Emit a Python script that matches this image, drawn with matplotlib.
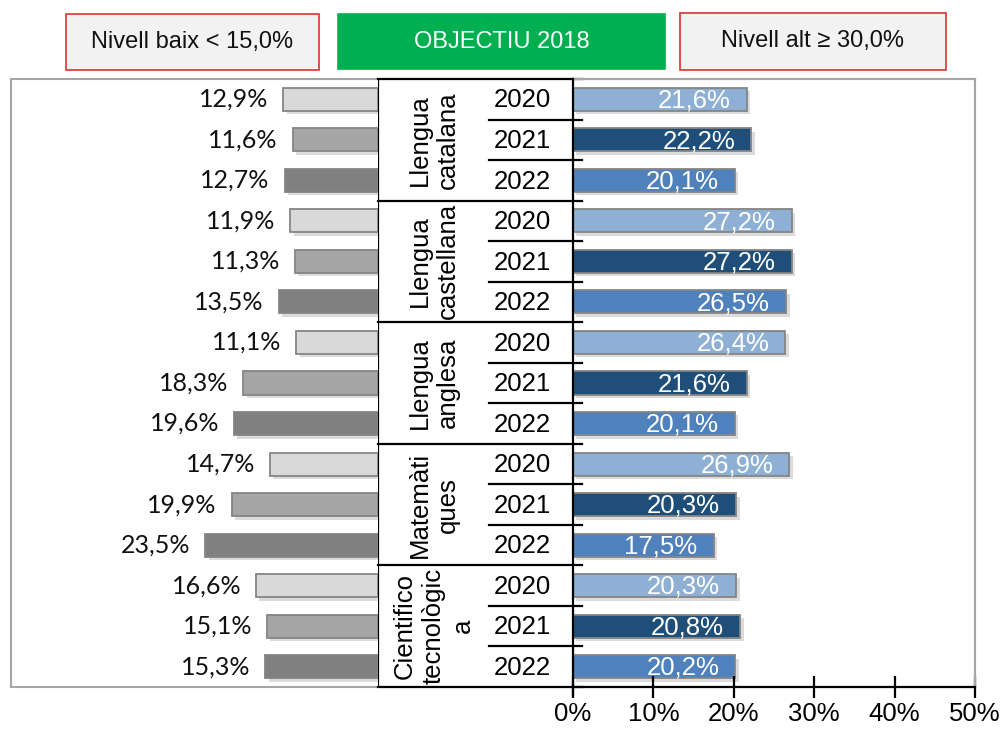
import matplotlib
matplotlib.use("Agg")
import matplotlib.pyplot as plt
import matplotlib.patheffects as pe
from matplotlib.patches import Rectangle

# data (percent)
subjects = ["Llengua\ncatalana", "Llengua\ncastellana", "Llengua\nanglesa",
            "Matemàti\nques", "Cientifico\ntecnològic\na"]
years = ["2020", "2021", "2022"]
nivell_baix = [12.9, 11.6, 12.7, 11.9, 11.3, 13.5, 11.1, 18.3, 19.6,
               14.7, 19.9, 23.5, 16.6, 15.1, 15.3]
nivell_alt = [21.6, 22.2, 20.1, 27.2, 27.2, 26.5, 26.4, 21.6, 20.1,
              26.9, 20.3, 17.5, 20.3, 20.8, 20.2]
xticks_alt = [0, 10, 20, 30, 40, 50]

GREY = ["#d9d9d9", "#a6a6a6", "#808080"]
BLUE = ["#8db0d4", "#1f4e79", "#4f81bd"]
EDGE = "#858585"
FRAME = "#a6a6a6"
ARIAL = "Liberation Sans"

W, H = 1004, 729
fig = plt.figure(figsize=(W / 100, H / 100), dpi=100)


def fx(x):
    return x / W


def fy(y):
    return 1 - y / H


def px_axes(x1, y1, x2, y2):
    return fig.add_axes([fx(x1), fy(y2), (x2 - x1) / W, (y2 - y1) / H])


shadow = [pe.SimplePatchShadow(offset=(2.5, -2.5), shadow_rgbFace="#9a9a9a", alpha=0.35),
          pe.Normal()]

TOP, BOT = 79, 687
XL, XT, XR, XE = 11, 378, 573, 975
n = len(nivell_baix)
rows = [i + 0.5 for i in range(n)]

# outer grey frame (behind everything)
fig.patches.append(Rectangle((fx(XL), fy(BOT)), (XE - XL) / W, (BOT - TOP) / H,
                             transform=fig.transFigure, fill=False, ec=FRAME,
                             lw=1.5, zorder=-5))

# ------------------------------------------------------------ left (baix)
axl = px_axes(XL, TOP, XT, BOT)
axl.set_xlim((XT - XL) / 7.36, 0)
axl.set_ylim(n, 0)
axl.axis("off")
bars = axl.barh(rows, nivell_baix, height=0.57,
                color=[GREY[i % 3] for i in range(n)], edgecolor=EDGE, lw=1.3)
for b in bars:
    b.set_path_effects(shadow)
for y, v in zip(rows, nivell_baix):
    axl.text(v + 2.0, y, f"{v:.1f}%".replace(".", ","), ha="right", va="center",
             fontsize=18, family="Lato", color="#111")

# ------------------------------------------------------------ table
axt = px_axes(XT, TOP, XR, BOT)
axt.set_xlim(XT, XR)
axt.set_ylim(n, 0)
axt.axis("off")
axt.plot([XT, XT], [0, n], color="black", lw=1.6)
for g in range(len(subjects) + 1):
    axt.plot([XT, XR + 9], [3 * g, 3 * g], color="black", lw=1.6, clip_on=False)
for i in range(n):
    if i % 3:
        axt.plot([489, XR + 9], [i, i], color="black", lw=1.6, clip_on=False)
    axt.text(522, i + 0.53, years[i % 3], ha="center", va="center",
             fontsize=18.5, family=ARIAL)
for g, s in enumerate(subjects):
    axt.text(434, 3 * g + 1.5, s, ha="center", va="center", rotation=90,
             multialignment="center", fontsize=18.5, family=ARIAL,
             linespacing=1.25, clip_on=False)

# ------------------------------------------------------------ right (alt)
axr = px_axes(XR, TOP, XE, BOT)
axr.set_xlim(0, 50)
axr.set_ylim(n, 0)
axr.patch.set_alpha(0)
bars = axr.barh(rows, nivell_alt, height=0.57,
                color=[BLUE[i % 3] for i in range(n)], edgecolor=EDGE, lw=1.3)
for b in bars:
    b.set_path_effects(shadow)
for y, v in zip(rows, nivell_alt):
    axr.text(v - 2, y + 0.03, f"{v:.1f}%".replace(".", ","), ha="right", va="center",
             fontsize=18.5, family=ARIAL, color="white")
axr.set_xticks(xticks_alt)
axr.set_xticklabels([f"{t}%" for t in xticks_alt], fontsize=18.5, family=ARIAL)
axr.tick_params(axis="x", direction="inout", length=16, width=1.6, pad=3)
axr.set_yticks([])
for side in ("left", "bottom"):
    axr.spines[side].set_color("black")
    axr.spines[side].set_linewidth(1.6)
    axr.spines[side].set_zorder(5)
for side in ("right", "top"):
    axr.spines[side].set_color(FRAME)
    axr.spines[side].set_linewidth(1.5)
axr.plot([0, 0], [n, n + 0.2], color="black", lw=1.6, clip_on=False)

# ------------------------------------------------------------ header boxes
def header(x1, y1, x2, y2, text, fc, ec, tc):
    fig.patches.append(Rectangle((fx(x1), fy(y2)), (x2 - x1) / W, (y2 - y1) / H,
                                 transform=fig.transFigure, fc=fc, ec=ec, lw=1.2))
    fig.text(fx((x1 + x2) / 2), fy((y1 + y2) / 2), text, ha="center", va="center",
             fontsize=17, family=ARIAL, color=tc)


header(66, 14, 319, 70, "Nivell baix < 15,0%", "#f2f2f2", "#e03030", "#111")
header(338, 14, 665, 69, "OBJECTIU 2018", "#00b050", "#00b050", "white")
header(680, 13, 946, 70, "Nivell alt ≥ 30,0%", "#f2f2f2", "#e03030", "#111")

fig.savefig("out.png", dpi=100, facecolor="white")
